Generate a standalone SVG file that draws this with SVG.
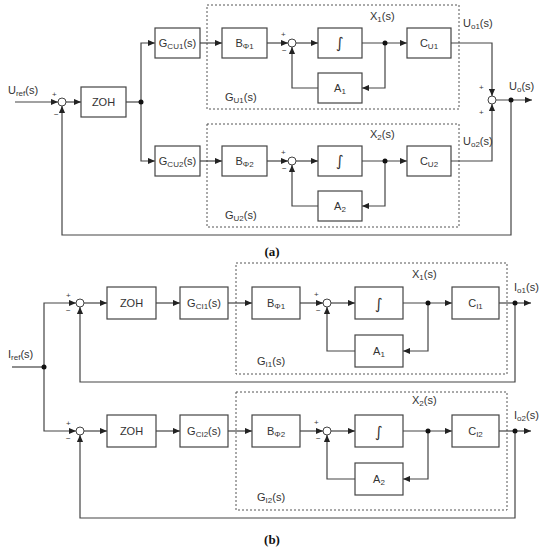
<svg xmlns="http://www.w3.org/2000/svg" width="545" height="550" viewBox="0 0 545 550">
<defs>
<marker id="ar" viewBox="0 0 8 8" refX="8" refY="4" markerWidth="7" markerHeight="7" markerUnits="userSpaceOnUse" orient="auto">
<path d="M0,0.5 L8,4 L0,7.5 Z" fill="#222"/>
</marker>
</defs>
<style>
.bx{fill:#fff;stroke:#444;stroke-width:1.2}
.dsh{fill:none;stroke:#555;stroke-width:1;stroke-dasharray:2,2}
.ln{fill:none;stroke:#444;stroke-width:1.2}
.ar{marker-end:url(#ar)}
.sm{fill:#fff;stroke:#444;stroke-width:1}
.dt{fill:#111}
text{font-family:"Liberation Sans",Arial,sans-serif;font-size:11px;fill:#333}
.c{text-anchor:middle}
.sg{font-size:8px}
.cap{font-family:"Liberation Serif","Times New Roman",serif;font-size:13px;font-weight:bold;fill:#111;text-anchor:middle}
.int{font-family:"DejaVu Sans",sans-serif;font-size:15px}
</style>
<rect width="545" height="550" fill="#fff"/>

<!-- ===== (a) ===== -->
<g id="a-dash1"><rect class="dsh" x="207" y="5" width="252" height="104"/></g>
<g id="a-dash2"><rect class="dsh" x="207" y="124" width="252" height="103"/></g>

<g id="a-connectors">
<path class="ln ar" d="M15,102 H58"/>
<path class="ln ar" d="M66,102 H81"/>
<path class="ln" d="M126,102 H141"/>
<path class="ln ar" d="M141,102 V43 H155"/>
<path class="ln ar" d="M141,102 V161 H155"/>
<path class="ln ar" d="M200,43 H222"/>
<path class="ln ar" d="M267,43 H288"/>
<path class="ln ar" d="M296,43 H318"/>
<path class="ln ar" d="M362,43 H407"/>
<path class="ln ar" d="M385,43 V88 H362"/>
<path class="ln ar" d="M318,88 H292 V47"/>
<path class="ln ar" d="M200,161 H222"/>
<path class="ln ar" d="M267,161 H288"/>
<path class="ln ar" d="M296,161 H318"/>
<path class="ln ar" d="M362,161 H407"/>
<path class="ln ar" d="M385,161 V206 H362"/>
<path class="ln ar" d="M318,206 H292 V165"/>
<path class="ln ar" d="M451,43 H492 V96"/>
<path class="ln ar" d="M451,161 H492 V104"/>
<path class="ln ar" d="M496,100 H532"/>
<path class="ln ar" d="M511,100 V235 H62 V106"/>
<circle class="dt" cx="141" cy="102" r="2.5"/>
<circle class="dt" cx="385" cy="43" r="2.5"/>
<circle class="dt" cx="385" cy="161" r="2.5"/>
<circle class="dt" cx="511" cy="100" r="2.5"/>
</g>

<g id="a-sum0"><circle class="sm" cx="62" cy="102" r="4"/><text x="52" y="97" class="sg">+</text><text x="54" y="117" class="sg">−</text></g>
<g id="a-sum1"><circle class="sm" cx="292" cy="43" r="4"/><text x="281" y="37" class="sg">+</text><text x="282" y="53" class="sg">−</text></g>
<g id="a-sum2"><circle class="sm" cx="292" cy="161" r="4"/><text x="281" y="155" class="sg">+</text><text x="282" y="171" class="sg">−</text></g>
<g id="a-sumo"><circle class="sm" cx="492" cy="100" r="4"/><text x="479" y="90" class="sg">+</text><text x="479" y="115" class="sg">+</text></g>

<g id="a-zoh"><rect class="bx" x="81" y="87" width="45" height="30"/><text class="c" x="103.5" y="106">ZOH</text></g>
<g id="a-gcu1"><rect class="bx" x="155" y="28" width="45" height="30"/><text class="c" x="177.5" y="47">G<tspan class="sg" dy="2">CU1</tspan><tspan dy="-2">(s)</tspan></text></g>
<g id="a-gcu2"><rect class="bx" x="155" y="146" width="45" height="30"/><text class="c" x="177.5" y="165">G<tspan class="sg" dy="2">CU2</tspan><tspan dy="-2">(s)</tspan></text></g>
<g id="a-b1"><rect class="bx" x="222" y="28" width="45" height="30"/><text class="c" x="244.5" y="47">B<tspan class="sg" dy="2">Φ1</tspan></text></g>
<g id="a-b2"><rect class="bx" x="222" y="146" width="45" height="30"/><text class="c" x="244.5" y="165">B<tspan class="sg" dy="2">Φ2</tspan></text></g>
<g id="a-int1"><rect class="bx" x="318" y="28" width="44" height="30"/><text class="c int" x="340" y="48">∫</text></g>
<g id="a-int2"><rect class="bx" x="318" y="146" width="44" height="30"/><text class="c int" x="340" y="166">∫</text></g>
<g id="a-c1"><rect class="bx" x="407" y="28" width="44" height="30"/><text class="c" x="429" y="47">C<tspan class="sg" dy="2">U1</tspan></text></g>
<g id="a-c2"><rect class="bx" x="407" y="146" width="44" height="30"/><text class="c" x="429" y="165">C<tspan class="sg" dy="2">U2</tspan></text></g>
<g id="a-a1"><rect class="bx" x="318" y="73" width="44" height="30"/><text class="c" x="340" y="92">A<tspan class="sg" dy="2">1</tspan></text></g>
<g id="a-a2"><rect class="bx" x="318" y="191" width="44" height="30"/><text class="c" x="340" y="210">A<tspan class="sg" dy="2">2</tspan></text></g>

<g id="a-labels">
<text x="8" y="94">U<tspan class="sg" dy="2">ref</tspan><tspan dy="-2">(s)</tspan></text>
<text x="370" y="20">X<tspan class="sg" dy="2">1</tspan><tspan dy="-2">(s)</tspan></text>
<text x="370" y="138">X<tspan class="sg" dy="2">2</tspan><tspan dy="-2">(s)</tspan></text>
<text x="225" y="101">G<tspan class="sg" dy="2">U1</tspan><tspan dy="-2">(s)</tspan></text>
<text x="225" y="219">G<tspan class="sg" dy="2">U2</tspan><tspan dy="-2">(s)</tspan></text>
<text x="463" y="27">U<tspan class="sg" dy="2">o1</tspan><tspan dy="-2">(s)</tspan></text>
<text x="463" y="145">U<tspan class="sg" dy="2">o2</tspan><tspan dy="-2">(s)</tspan></text>
<text x="509" y="90">U<tspan class="sg" dy="2">o</tspan><tspan dy="-2">(s)</tspan></text>
<text class="cap" x="272" y="256">(a)</text>
</g>

<!-- ===== (b) ===== -->
<g id="b-dash1"><rect class="dsh" x="236" y="263" width="271" height="111"/></g>
<g id="b-dash2"><rect class="dsh" x="236" y="392" width="271" height="118"/></g>

<g id="b-connectors">
<path class="ln" d="M12,367 H44"/>
<path class="ln ar" d="M44,367 V303 H76"/>
<path class="ln ar" d="M44,367 V431 H76"/>
<path class="ln ar" d="M84,303 H107"/>
<path class="ln ar" d="M156,303 H180"/>
<path class="ln ar" d="M228,303 H252"/>
<path class="ln ar" d="M300,303 H323"/>
<path class="ln ar" d="M331,303 H355"/>
<path class="ln ar" d="M403,303 H452"/>
<path class="ln ar" d="M428,303 V351 H403"/>
<path class="ln ar" d="M355,351 H327 V307"/>
<path class="ln ar" d="M499,303 H531"/>
<path class="ln ar" d="M515,303 V382 H80 V307"/>
<path class="ln ar" d="M84,431 H107"/>
<path class="ln ar" d="M156,431 H180"/>
<path class="ln ar" d="M228,431 H252"/>
<path class="ln ar" d="M300,431 H323"/>
<path class="ln ar" d="M331,431 H355"/>
<path class="ln ar" d="M403,431 H452"/>
<path class="ln ar" d="M428,431 V479 H403"/>
<path class="ln ar" d="M355,479 H327 V435"/>
<path class="ln ar" d="M499,431 H531"/>
<path class="ln ar" d="M515,431 V518 H80 V435"/>
<circle class="dt" cx="44" cy="367" r="2.5"/>
<circle class="dt" cx="428" cy="303" r="2.5"/>
<circle class="dt" cx="515" cy="303" r="2.5"/>
<circle class="dt" cx="428" cy="431" r="2.5"/>
<circle class="dt" cx="515" cy="431" r="2.5"/>
</g>

<g id="b-sum0"><circle class="sm" cx="80" cy="303" r="4"/><text x="66" y="298" class="sg">+</text><text x="66" y="313" class="sg">−</text></g>
<g id="b-sum1"><circle class="sm" cx="327" cy="303" r="4"/><text x="314" y="297" class="sg">+</text><text x="316" y="313" class="sg">−</text></g>
<g id="b-sum2"><circle class="sm" cx="80" cy="431" r="4"/><text x="66" y="426" class="sg">+</text><text x="66" y="441" class="sg">−</text></g>
<g id="b-sum3"><circle class="sm" cx="327" cy="431" r="4"/><text x="314" y="425" class="sg">+</text><text x="316" y="441" class="sg">−</text></g>

<g id="b-zoh1"><rect class="bx" x="107" y="287" width="49" height="32"/><text class="c" x="131.5" y="307">ZOH</text></g>
<g id="b-zoh2"><rect class="bx" x="107" y="415" width="49" height="32"/><text class="c" x="131.5" y="435">ZOH</text></g>
<g id="b-gci1"><rect class="bx" x="180" y="287" width="48" height="32"/><text class="c" x="204" y="307">G<tspan class="sg" dy="2">CI1</tspan><tspan dy="-2">(s)</tspan></text></g>
<g id="b-gci2"><rect class="bx" x="180" y="415" width="48" height="32"/><text class="c" x="204" y="435">G<tspan class="sg" dy="2">CI2</tspan><tspan dy="-2">(s)</tspan></text></g>
<g id="b-b1"><rect class="bx" x="252" y="287" width="48" height="32"/><text class="c" x="276" y="307">B<tspan class="sg" dy="2">Φ1</tspan></text></g>
<g id="b-b2"><rect class="bx" x="252" y="415" width="48" height="32"/><text class="c" x="276" y="435">B<tspan class="sg" dy="2">Φ2</tspan></text></g>
<g id="b-int1"><rect class="bx" x="355" y="287" width="48" height="32"/><text class="c int" x="379" y="309">∫</text></g>
<g id="b-int2"><rect class="bx" x="355" y="415" width="48" height="32"/><text class="c int" x="379" y="437">∫</text></g>
<g id="b-c1"><rect class="bx" x="452" y="287" width="47" height="32"/><text class="c" x="475.5" y="307">C<tspan class="sg" dy="2">I1</tspan></text></g>
<g id="b-c2"><rect class="bx" x="452" y="415" width="47" height="32"/><text class="c" x="475.5" y="435">C<tspan class="sg" dy="2">I2</tspan></text></g>
<g id="b-a1"><rect class="bx" x="355" y="335" width="48" height="32"/><text class="c" x="379" y="355">A<tspan class="sg" dy="2">1</tspan></text></g>
<g id="b-a2"><rect class="bx" x="355" y="463" width="48" height="32"/><text class="c" x="379" y="483">A<tspan class="sg" dy="2">2</tspan></text></g>

<g id="b-labels">
<text x="8" y="358">I<tspan class="sg" dy="2">ref</tspan><tspan dy="-2">(s)</tspan></text>
<text x="412" y="278">X<tspan class="sg" dy="2">1</tspan><tspan dy="-2">(s)</tspan></text>
<text x="412" y="404">X<tspan class="sg" dy="2">2</tspan><tspan dy="-2">(s)</tspan></text>
<text x="257" y="365">G<tspan class="sg" dy="2">I1</tspan><tspan dy="-2">(s)</tspan></text>
<text x="257" y="501">G<tspan class="sg" dy="2">I2</tspan><tspan dy="-2">(s)</tspan></text>
<text x="514" y="291">I<tspan class="sg" dy="2">o1</tspan><tspan dy="-2">(s)</tspan></text>
<text x="514" y="419">I<tspan class="sg" dy="2">o2</tspan><tspan dy="-2">(s)</tspan></text>
<text class="cap" x="272" y="544">(b)</text>
</g>
</svg>
